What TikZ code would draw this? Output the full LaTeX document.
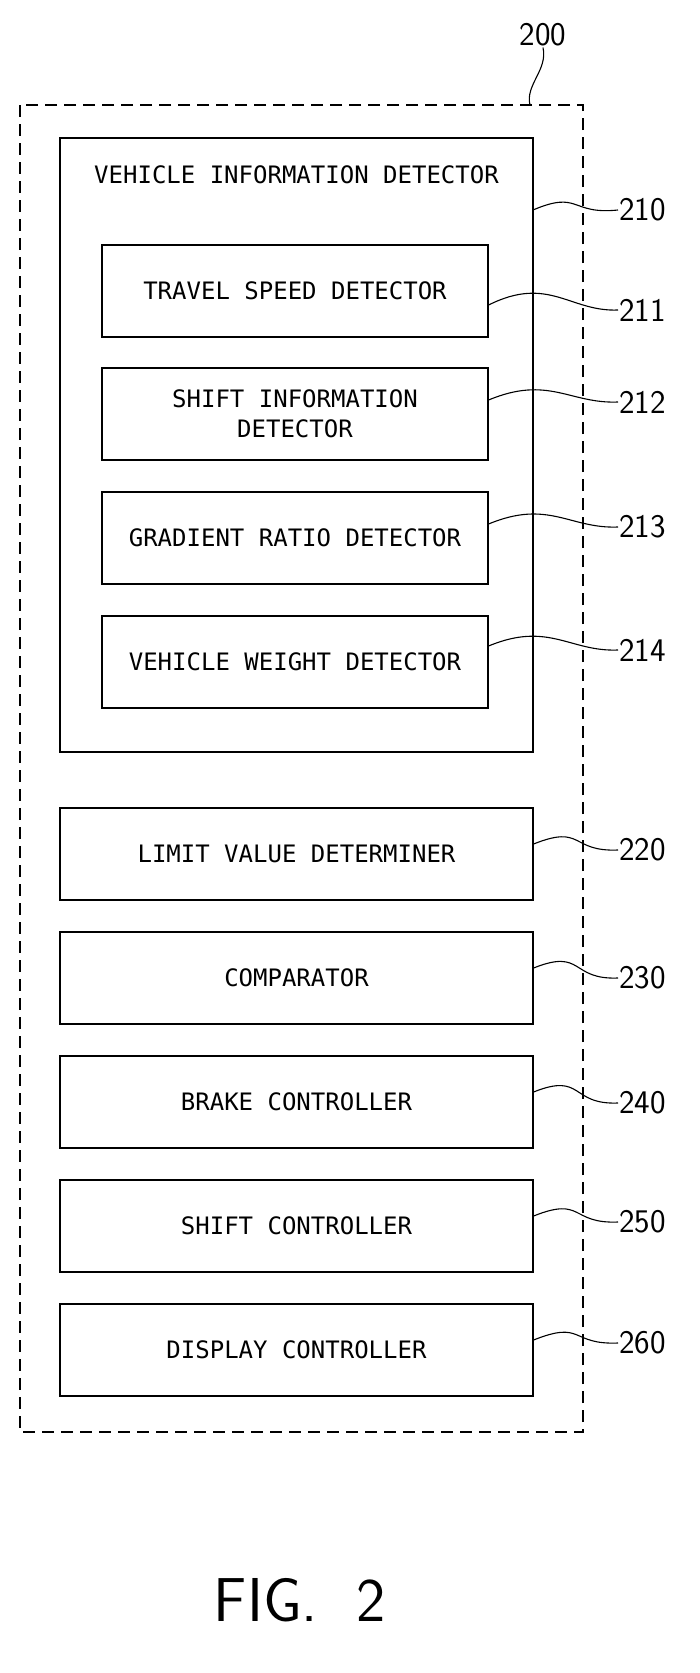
\documentclass[tikz,border=0pt]{standalone}
\usepackage{fontspec}
\setmonofont{DejaVu Sans Mono}
\usetikzlibrary{positioning}
\def\subw{386pt}
\def\boxw{473pt}
\def\boxh{92pt}

\begin{document}
\begin{tikzpicture}[x=1pt,y=-1pt,
    box/.style={draw, line width=1.2pt, minimum width=\boxw, minimum height=\boxh,
      inner sep=0pt, align=center, font=\ttfamily\fontsize{24}{30}\selectfont},
    subbox/.style={box, minimum width=\subw},
    num/.style={font=\sffamily\fontsize{33}{35}\selectfont, anchor=west, inner sep=1pt},
    leader/.style={line width=1.1pt}
  ]
    \useasboundingbox (0,0) rectangle (699,1673);

    % outer unit
    \draw[line width=1.2pt, dash pattern=on 12pt off 7pt] (20,105) rectangle (583,1432);
    \node[num, anchor=center] (n200) at (543,35) {200};
    \coordinate (c200) at (530,105);
    \draw[leader] (c200) .. controls (525,85) and (548,70) .. (n200.south);

    % vehicle information detector
    \node[box, minimum height=614pt] (vid) at (296.5,445) {};
    \node[font=\ttfamily\fontsize{24}{30}\selectfont] (vidt) at (296.5,175) {VEHICLE INFORMATION DETECTOR};
    \node[num] (n210) at (618,210) {210};
    \coordinate (c210) at (533,210);
    \draw[leader] (c210) .. controls (580,190) and (570,215) .. (n210.west);

    \node[subbox] (tsd) at (295,291) {TRAVEL SPEED DETECTOR};
    \node[subbox] (sid) at (295,414) {SHIFT INFORMATION\\DETECTOR};
    \node[subbox] (grd) at (295,538) {GRADIENT RATIO DETECTOR};
    \node[subbox] (vwd) at (295,662) {VEHICLE WEIGHT DETECTOR};

    \node[num] (n211) at (618,310) {211};
    \node[num] (n212) at (618,402) {212};
    \node[num] (n213) at (618,527) {213};
    \node[num] (n214) at (618,650) {214};
    \draw[leader] (tsd.east) ++(0,14) .. controls +(60,-30) and (570,312) .. (n211.west);
    \draw[leader] (sid.east) ++(0,-14) .. controls +(60,-25) and (570,404) .. (n212.west);
    \draw[leader] (grd.east) ++(0,-14) .. controls +(60,-25) and (570,529) .. (n213.west);
    \draw[leader] (vwd.east) ++(0,-16) .. controls +(60,-25) and (570,652) .. (n214.west);

    % lower blocks
    \node[box] (lvd) at (296.5,854) {LIMIT VALUE DETERMINER};
    \node[box] (cmp) at (296.5,978) {COMPARATOR};
    \node[box] (brc) at (296.5,1102) {BRAKE CONTROLLER};
    \node[box] (shc) at (296.5,1226) {SHIFT CONTROLLER};
    \node[box] (dsc) at (296.5,1350) {DISPLAY CONTROLLER};

    \node[num] (n220) at (618,850) {220};
    \node[num] (n230) at (618,978) {230};
    \node[num] (n240) at (618,1103) {240};
    \node[num] (n250) at (618,1222) {250};
    \node[num] (n260) at (618,1343) {260};
    \draw[leader] (lvd.east) ++(0,-10) .. controls +(50,-20) and (570,852) .. (n220.west);
    \draw[leader] (cmp.east) ++(0,-10) .. controls +(50,-20) and (570,980) .. (n230.west);
    \draw[leader] (brc.east) ++(0,-10) .. controls +(50,-20) and (570,1105) .. (n240.west);
    \draw[leader] (shc.east) ++(0,-10) .. controls +(50,-20) and (570,1224) .. (n250.west);
    \draw[leader] (dsc.east) ++(0,-10) .. controls +(50,-20) and (570,1345) .. (n260.west);

    \node[font=\sffamily\fontsize{62}{64}\selectfont] (fig) at (300,1600) {FIG.~~2};
  \end{tikzpicture}
\end{document}
